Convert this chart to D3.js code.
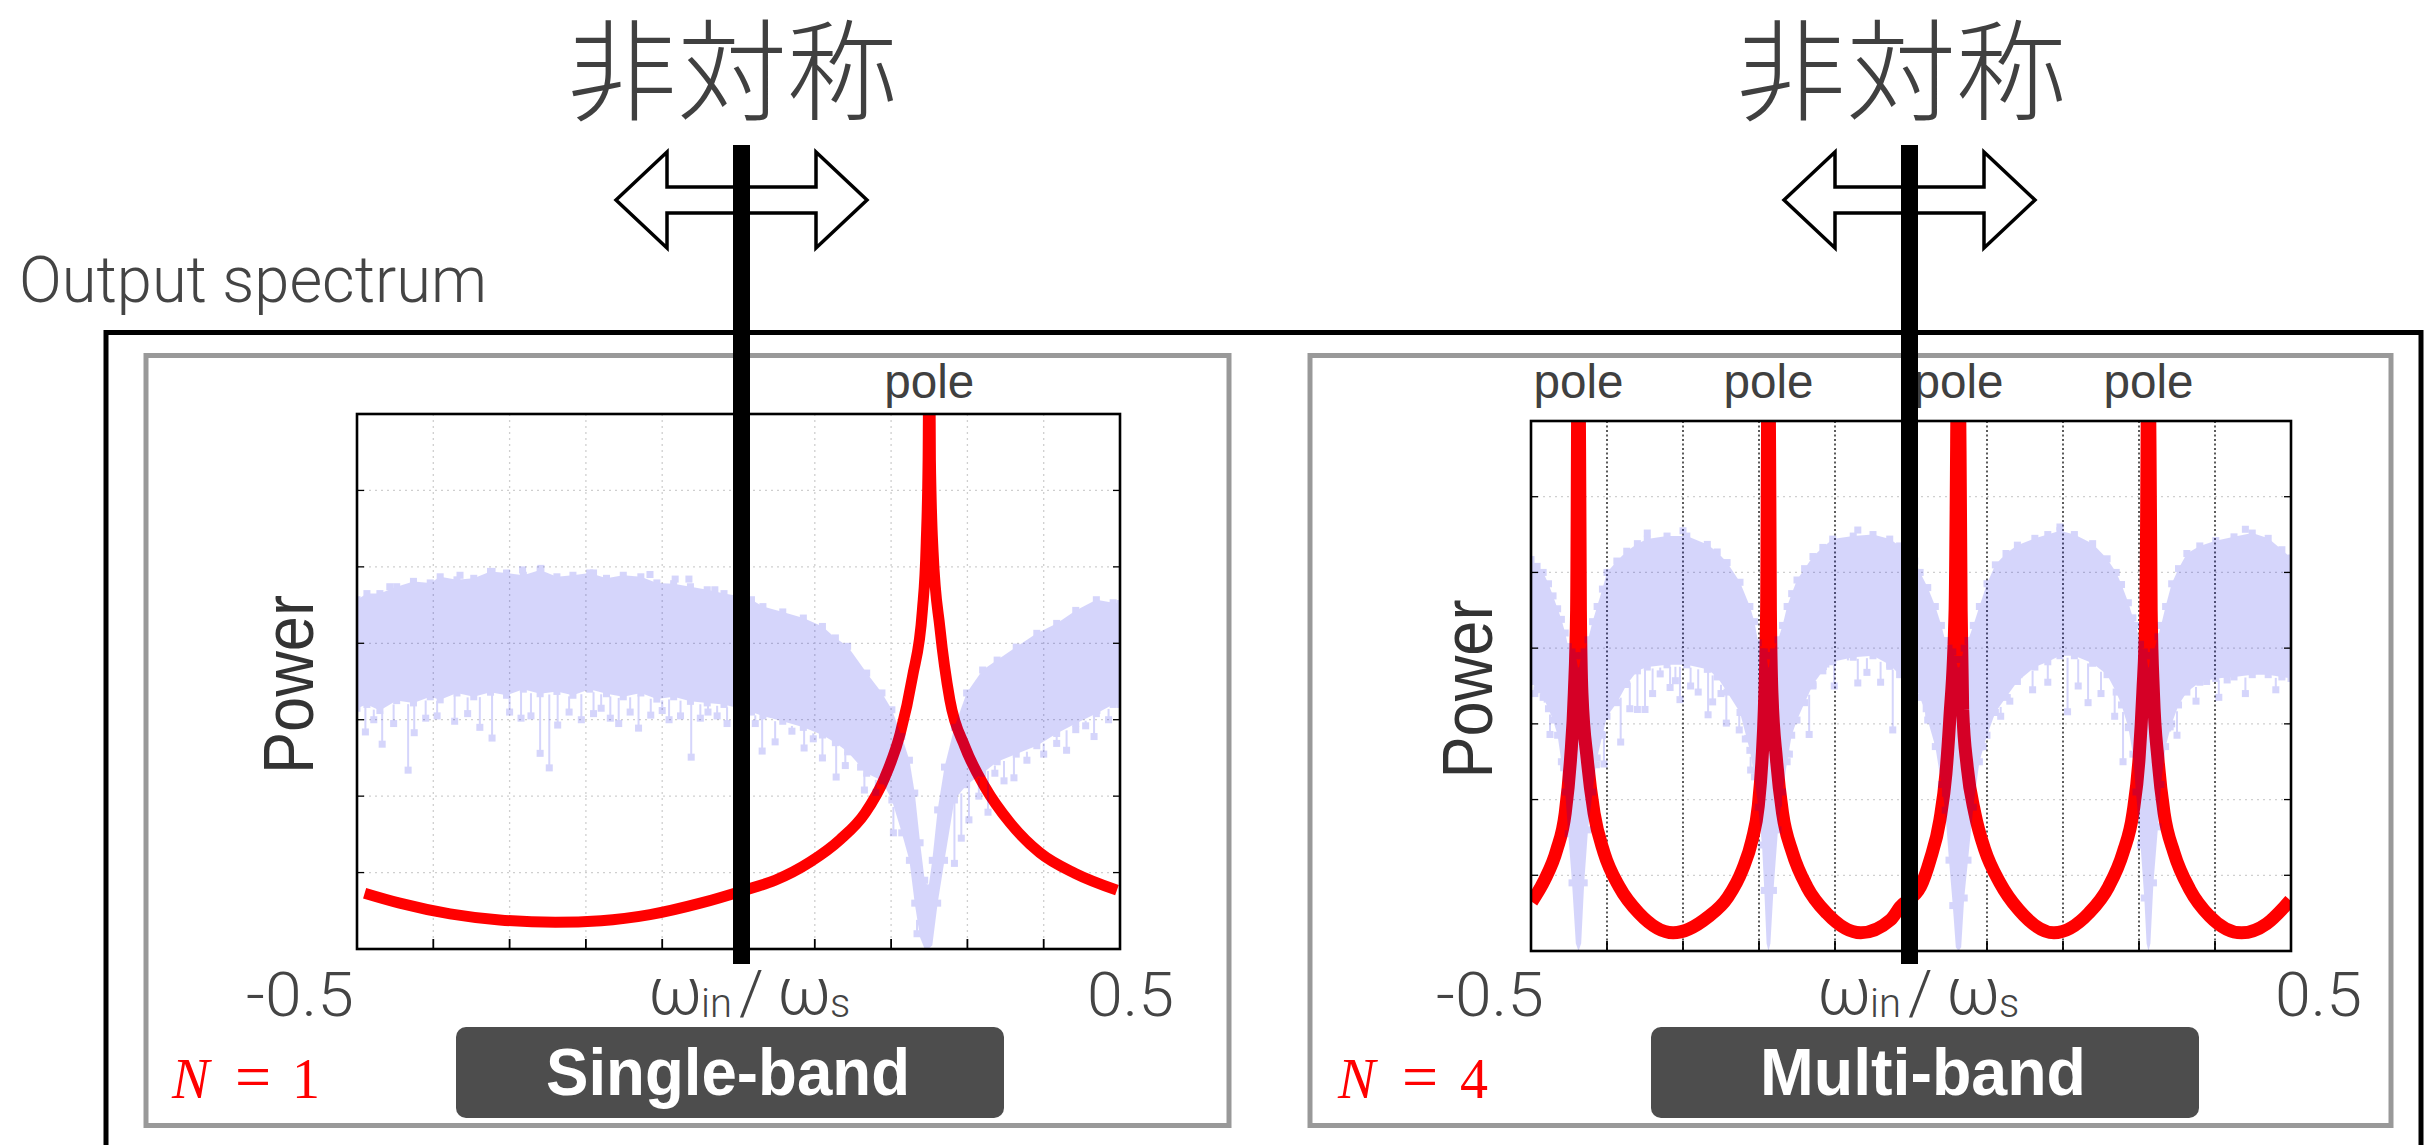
<!DOCTYPE html>
<html><head><meta charset="utf-8">
<script src="https://cdn.jsdelivr.net/npm/d3@7"></script>
<style>body{margin:0;background:#fff;}svg{display:block;}</style>
</head><body>
<svg id="c" width="2424" height="1145"></svg>
<script>
// ---------------- data ----------------
const titleText = "非対称";
const outerLabel = "Output spectrum";
const axisLabel = ["ω", "in", "/", "ω", "s"];
const yLabel = "Power";
const poleLabel = "pole";
const xTickLabels = ["-0.5", "0.5"];
const xTickValues = [-0.5, -0.4, -0.3, -0.2, -0.1, 0, 0.1, 0.2, 0.3, 0.4, 0.5];
const yGridValues = [1, 2, 3, 4, 5, 6];
const panelNames = ["Single-band", "Multi-band"];
const panelN = ["1", "4"];
const leftPoles = [0.25];
const rightPoles = [-0.4375, -0.1875, 0.0625, 0.3125];

// red |H| curve, [x, power]
const leftRed = [[-0.490,0.73],[-0.444,0.60],[-0.378,0.46],[-0.313,0.38],[-0.240,0.35],[-0.180,0.37],[-0.116,0.45],[-0.050,0.60],[0.008,0.77],[0.048,0.90],[0.094,1.14],[0.133,1.43],[0.166,1.78],[0.192,2.25],[0.212,2.82],[0.228,3.56],[0.241,4.43],[0.246,5.30],[0.2485,6.40],[0.250,9.00],[0.2515,6.40],[0.255,5.20],[0.264,4.20],[0.277,3.26],[0.297,2.64],[0.323,2.12],[0.356,1.65],[0.395,1.26],[0.441,0.99],[0.496,0.77]];
const rightRed = [[-0.499,0.65],[-0.482,0.94],[-0.466,1.34],[-0.455,1.82],[-0.448,2.53],[-0.443,3.41],[-0.440,4.50],[-0.4375,9.0],[-0.435,4.50],[-0.433,3.41],[-0.426,2.53],[-0.417,1.82],[-0.404,1.30],[-0.384,0.85],[-0.358,0.50],[-0.313,0.24],[-0.267,0.45],[-0.241,0.71],[-0.222,1.07],[-0.209,1.47],[-0.201,1.91],[-0.196,2.53],[-0.193,3.19],[-0.190,4.50],[-0.1875,9.0],[-0.185,4.50],[-0.183,3.41],[-0.177,2.53],[-0.169,1.82],[-0.156,1.30],[-0.137,0.85],[-0.111,0.50],[-0.066,0.24],[-0.027,0.41],[-0.0145,0.58],[0.0125,0.85],[0.025,1.20],[0.038,1.73],[0.046,2.35],[0.051,3.06],[0.058,4.50],[0.0625,9.0],[0.066,4.50],[0.068,3.19],[0.074,2.43],[0.084,1.82],[0.097,1.34],[0.117,0.90],[0.142,0.54],[0.188,0.24],[0.234,0.50],[0.260,0.85],[0.279,1.30],[0.292,1.82],[0.300,2.53],[0.305,3.41],[0.309,4.50],[0.3125,9.0],[0.316,4.50],[0.319,3.41],[0.325,2.53],[0.333,1.82],[0.346,1.30],[0.367,0.81],[0.393,0.46],[0.435,0.24],[0.468,0.36],[0.491,0.58],[0.499,0.67]];

// blue measured spectrum: dense band [x, top, bottom]
const leftBand = [[-0.500,4.57,3.15],[-0.487,4.65,3.20],[-0.470,4.65,3.12],[-0.448,4.74,3.25],[-0.426,4.81,3.22],[-0.404,4.79,3.30],[-0.391,4.87,3.26],[-0.369,4.83,3.35],[-0.347,4.85,3.30],[-0.325,4.94,3.36],[-0.304,4.92,3.32],[-0.282,4.89,3.40],[-0.260,4.96,3.34],[-0.238,4.87,3.37],[-0.217,4.89,3.32],[-0.195,4.92,3.40],[-0.173,4.85,3.34],[-0.151,4.89,3.30],[-0.128,4.87,3.35],[-0.107,4.79,3.27],[-0.085,4.78,3.30],[-0.063,4.74,3.24],[-0.041,4.70,3.22],[-0.019,4.65,3.20],[0.000,4.62,3.15],[0.017,4.57,3.10],[0.032,4.48,3.05],[0.058,4.41,2.98],[0.085,4.33,2.90],[0.110,4.22,2.80],[0.127,4.07,2.70],[0.143,3.96,2.58],[0.168,3.61,2.30],[0.188,3.35,2.20],[0.201,3.13,1.95],[0.214,2.78,1.52],[0.224,2.47,1.16],[0.231,2.04,0.60],[0.238,1.39,0.15],[0.244,0.90,0.00],[0.249,0.80,0.00],[0.254,1.16,0.05],[0.261,1.82,0.60],[0.270,2.38,1.16],[0.283,2.90,1.95],[0.299,3.35,2.15],[0.320,3.65,2.30],[0.339,3.78,2.45],[0.364,3.95,2.55],[0.391,4.13,2.66],[0.417,4.26,2.82],[0.442,4.43,2.95],[0.469,4.57,3.08],[0.491,4.53,3.20],[0.500,4.52,3.20]];
const rightBand = [[-0.500,5.17,3.56],[-0.492,5.08,3.45],[-0.484,5.00,3.35],[-0.477,4.85,3.20],[-0.471,4.69,3.05],[-0.465,4.52,2.85],[-0.460,4.38,2.50],[-0.455,4.20,2.10],[-0.451,4.02,1.55],[-0.446,3.95,0.90],[-0.441,3.90,0.10],[-0.4375,3.70,0.00],[-0.434,3.90,0.10],[-0.430,3.95,0.90],[-0.425,4.11,1.60],[-0.419,4.35,2.10],[-0.413,4.55,2.55],[-0.406,4.78,2.85],[-0.400,5.00,3.10],[-0.387,5.15,3.28],[-0.374,5.28,3.52],[-0.360,5.38,3.70],[-0.347,5.44,3.75],[-0.321,5.48,3.78],[-0.295,5.48,3.78],[-0.268,5.37,3.72],[-0.255,5.27,3.62],[-0.242,5.13,3.42],[-0.225,4.87,3.15],[-0.212,4.55,2.65],[-0.206,4.35,2.30],[-0.201,4.07,1.90],[-0.196,3.95,1.40],[-0.193,3.95,0.80],[-0.190,3.90,0.10],[-0.1875,3.70,0.00],[-0.185,3.90,0.10],[-0.181,3.95,0.80],[-0.175,4.11,1.60],[-0.169,4.30,2.10],[-0.163,4.55,2.50],[-0.157,4.72,2.85],[-0.150,4.90,3.05],[-0.140,5.05,3.28],[-0.129,5.21,3.52],[-0.116,5.33,3.70],[-0.103,5.44,3.82],[-0.076,5.48,3.88],[-0.050,5.50,3.90],[-0.028,5.44,3.78],[-0.015,5.35,3.65],[0.005,5.15,3.50],[0.012,5.00,3.35],[0.022,4.80,3.05],[0.032,4.55,2.70],[0.040,4.30,2.20],[0.045,4.10,1.86],[0.050,4.00,1.20],[0.055,3.95,0.60],[0.059,3.85,0.05],[0.0625,3.70,0.00],[0.066,3.85,0.05],[0.070,4.00,0.70],[0.075,4.10,1.20],[0.082,4.30,1.90],[0.090,4.55,2.50],[0.100,4.85,2.85],[0.111,5.10,3.15],[0.125,5.25,3.35],[0.140,5.36,3.56],[0.163,5.45,3.75],[0.180,5.50,3.82],[0.196,5.55,3.90],[0.215,5.50,3.90],[0.239,5.38,3.80],[0.258,5.18,3.65],[0.270,5.00,3.42],[0.277,4.84,3.25],[0.286,4.60,2.95],[0.292,4.40,2.60],[0.296,4.30,2.10],[0.302,4.05,1.40],[0.307,3.95,0.70],[0.310,3.90,0.10],[0.3125,3.70,0.00],[0.315,3.90,0.10],[0.319,3.95,0.90],[0.325,4.15,1.64],[0.329,4.30,2.20],[0.335,4.55,2.70],[0.343,4.85,3.00],[0.352,5.05,3.25],[0.363,5.25,3.42],[0.380,5.35,3.55],[0.401,5.42,3.60],[0.425,5.47,3.62],[0.449,5.52,3.65],[0.470,5.45,3.65],[0.488,5.30,3.62],[0.500,5.19,3.60]];
// isolated low samples hanging below the band, [x, power]
const leftSpikes = [[-0.489,2.84],[-0.478,3.00],[-0.467,2.68],[-0.452,2.95],[-0.433,2.34],[-0.425,2.83],[-0.410,3.02],[-0.395,3.05],[-0.372,2.98],[-0.355,3.08],[-0.339,2.90],[-0.323,2.76],[-0.300,3.10],[-0.285,3.02],[-0.272,3.05],[-0.260,2.56],[-0.248,2.37],[-0.237,2.93],[-0.222,3.10],[-0.206,3.00],[-0.190,3.08],[-0.180,3.15],[-0.168,3.02],[-0.157,2.95],[-0.142,3.10],[-0.131,2.89],[-0.115,3.06],[-0.100,3.12],[-0.091,3.00],[-0.076,3.05],[-0.062,2.51],[-0.050,3.02],[-0.040,3.10],[-0.028,3.05],[-0.015,2.95],[0.022,2.95],[0.031,2.59],[0.048,2.71],[0.070,2.85],[0.086,2.63],[0.098,2.75],[0.110,2.50],[0.128,2.25],[0.140,2.40],[0.160,2.38],[0.165,2.08],[0.180,2.05],[0.203,1.52],[0.234,0.20],[0.283,1.12],[0.292,1.45],[0.302,1.69],[0.315,2.00],[0.327,1.79],[0.336,2.30],[0.348,2.20],[0.361,2.24],[0.378,2.47],[0.400,2.55],[0.417,2.69],[0.430,2.60],[0.442,2.87],[0.455,2.92],[0.466,2.78],[0.473,3.48],[0.485,3.00]];
const rightSpikes = [[-0.495,3.40],[-0.482,3.58],[-0.475,2.86],[-0.457,2.42],[-0.414,2.46],[-0.404,2.47],[-0.387,3.62],[-0.382,2.76],[-0.370,3.20],[-0.360,3.19],[-0.350,3.19],[-0.340,3.40],[-0.330,3.66],[-0.317,3.48],[-0.310,3.57],[-0.304,3.32],[-0.290,3.50],[-0.280,3.42],[-0.267,3.12],[-0.261,3.29],[-0.250,3.40],[-0.243,3.01],[-0.226,2.92],[-0.218,2.80],[-0.211,2.39],[-0.171,2.44],[-0.160,2.60],[-0.151,3.19],[-0.134,2.86],[-0.129,3.50],[-0.112,3.79],[-0.101,3.50],[-0.083,3.92],[-0.070,3.54],[-0.058,3.68],[-0.040,3.55],[-0.028,3.76],[-0.024,2.92],[0.020,3.20],[0.032,3.03],[0.042,2.57],[0.095,2.70],[0.100,3.12],[0.118,3.10],[0.130,3.30],[0.142,3.65],[0.160,3.45],[0.180,3.55],[0.206,3.16],[0.220,3.50],[0.233,3.28],[0.250,3.40],[0.268,3.10],[0.279,2.50],[0.341,2.96],[0.350,2.85],[0.363,3.50],[0.375,3.30],[0.389,3.56],[0.405,3.35],[0.416,3.58],[0.440,3.40],[0.468,3.89],[0.480,3.45],[0.491,3.81]];
const leftTopMarks = [[-0.457,4.74],[-0.365,4.89],[-0.323,4.94],[-0.283,4.96],[-0.259,4.98],[-0.190,4.92],[-0.116,4.90],[-0.083,4.84],[-0.065,4.84],[-0.031,4.70]];
const rightTopMarks = [[-0.347,5.52],[-0.300,5.55],[-0.070,5.56],[0.196,5.60],[0.440,5.57]];

// ---------------- layout ----------------
const svg = d3.select("#c");
const panels = [
  {box:[146,355.5,1083,770], plot:[357,414,1120,949], red:leftRed, band:leftBand, spikes:leftSpikes, marks:leftTopMarks, poles:leftPoles,
   name:panelNames[0], N:panelN[0], redW:11, darkV:false, bar:741.5, arrowX:741.5, titleX:732,
   tickL:354, tickR:1087, omegaX:648, powerX:313, btn:[456,1027,548,91], btnTx:728, btnLen:364, nX:[172,235,292]},
  {box:[1310,355.5,1081,770], plot:[1531,421,2291,951], red:rightRed, band:rightBand, spikes:rightSpikes, marks:rightTopMarks, poles:rightPoles,
   name:panelNames[1], N:panelN[1], redW:13, darkV:true, bar:1909.5, arrowX:1909.5, titleX:1901,
   tickL:1544, tickR:2275, omegaX:1817, powerX:1492, btn:[1651,1027,548,91], btnTx:1923, btnLen:326, nX:[1338,1402,1460]}
];
const lightFont = "Roboto, 'Liberation Sans', Arial, sans-serif";
const regFont = "'Liberation Sans', Arial, Helvetica, sans-serif";

// outer frame + label
svg.append("rect").attr("x",106).attr("y",332.5).attr("width",2315).attr("height",900)
  .attr("fill","none").attr("stroke","#000").attr("stroke-width",5);
svg.append("text").attr("x",19).attr("y",302).attr("font-family",lightFont).attr("font-weight",300)
  .attr("font-size",65).attr("fill","#444").attr("textLength",468).attr("lengthAdjust","spacingAndGlyphs").text(outerLabel);

const defs = svg.append("defs");

panels.forEach((p, i) => {
  const [px0, py0, px1, py1] = p.plot;
  const x = d3.scaleLinear().domain([-0.5, 0.5]).range([px0, px1]);
  const y = d3.scaleLinear().domain([0, 7]).range([py1, py0]);

  svg.append("rect").attr("x",p.box[0]).attr("y",p.box[1]).attr("width",p.box[2]).attr("height",p.box[3])
    .attr("fill","#fff").attr("stroke","#999").attr("stroke-width",5);

  defs.append("clipPath").attr("id","clip"+i).append("rect")
    .attr("x",px0).attr("y",py0).attr("width",px1-px0).attr("height",py1-py0);

  const g = svg.append("g");
  // grid
  g.selectAll(".hg").data(yGridValues).join("line")
    .attr("x1",px0).attr("x2",px1).attr("y1",d=>y(d)).attr("y2",d=>y(d))
    .attr("stroke","#cfcfcf").attr("stroke-width",1.3).attr("stroke-dasharray","2,4");
  g.selectAll(".vg").data(xTickValues.slice(1,-1)).join("line")
    .attr("y1",py0).attr("y2",py1).attr("x1",d=>x(d)).attr("x2",d=>x(d))
    .attr("stroke",p.darkV ? "#333" : "#cfcfcf").attr("stroke-width",p.darkV ? 1.6 : 1.3)
    .attr("stroke-dasharray",p.darkV ? "2,2.5" : "2,4");

  // red curve
  const line = d3.line().x(d=>x(d[0])).y(d=>y(d[1])).curve(d3.curveMonotoneX);
  g.append("path").attr("clip-path","url(#clip"+i+")").attr("d",line(p.red))
    .attr("fill","none").attr("stroke","#ff0000").attr("stroke-width",p.redW).attr("stroke-linejoin","round");

  // blue spectrum (translucent layer)
  const bg = g.append("g").attr("clip-path","url(#clip"+i+")").append("g").attr("opacity",0.16);
  const area = d3.area().x(d=>x(d[0])).y0(d=>y(d[2])).y1(d=>y(d[1])).curve(d3.curveLinear);
  bg.append("path").attr("d",area(p.band)).attr("fill","#0000eb");
  const bottomAt = xv => {
    const b = p.band;
    for (let k=0;k<b.length-1;k++){ if (xv>=b[k][0] && xv<=b[k+1][0]) {
      const t=(xv-b[k][0])/(b[k+1][0]-b[k][0]); return b[k][2]+t*(b[k+1][2]-b[k][2]); } }
    return b[b.length-1][2];
  };
  bg.selectAll(".sp").data(p.spikes).join("line")
    .attr("x1",d=>x(d[0])).attr("x2",d=>x(d[0])).attr("y1",d=>y(d[1])).attr("y2",d=>y(bottomAt(d[0]))+2)
    .attr("stroke","#0000eb").attr("stroke-width",2);
  const sq = 7;
  const markPts = p.spikes.concat(p.marks, p.band.map(d=>[d[0],d[1]]), p.band.filter(d=>d[2]>0.2).map(d=>[d[0],d[2]]));
  bg.selectAll(".sq").data(markPts).join("rect")
    .attr("x",d=>x(d[0])-sq/2).attr("y",d=>y(d[1])-sq/2).attr("width",sq).attr("height",sq).attr("fill","#0000eb");

  // frame and ticks
  g.selectAll(".bt").data(xTickValues.slice(1,-1)).join("line")
    .attr("x1",d=>x(d)).attr("x2",d=>x(d)).attr("y1",py1).attr("y2",py1-10).attr("stroke","#000").attr("stroke-width",1.8);
  g.selectAll(".lt").data(yGridValues).join("line")
    .attr("x1",px0).attr("x2",px0+7).attr("y1",d=>y(d)).attr("y2",d=>y(d)).attr("stroke","#000").attr("stroke-width",1.3);
  g.selectAll(".rt").data(yGridValues).join("line")
    .attr("x1",px1).attr("x2",px1-7).attr("y1",d=>y(d)).attr("y2",d=>y(d)).attr("stroke","#000").attr("stroke-width",1.3);
  g.append("rect").attr("x",px0).attr("y",py0).attr("width",px1-px0).attr("height",py1-py0)
    .attr("fill","none").attr("stroke","#000").attr("stroke-width",2.6);

  // tick labels
  g.append("text").attr("x",p.tickL).attr("y",1016).attr("text-anchor","end").attr("font-family",lightFont).attr("font-weight",300)
    .attr("font-size",61).attr("fill","#444").attr("textLength",108).attr("lengthAdjust","spacingAndGlyphs").text(xTickLabels[0]);
  g.append("text").attr("x",p.tickR).attr("y",1016).attr("font-family",lightFont).attr("font-weight",300)
    .attr("font-size",61).attr("fill","#444").attr("textLength",87).attr("lengthAdjust","spacingAndGlyphs").text(xTickLabels[1]);

  // axis label ω_in / ω_s
  const ox = p.omegaX;
  const t = g.append("text").attr("y",1014).attr("font-family",lightFont).attr("font-weight",300).attr("fill","#444");
  t.append("tspan").attr("x",ox).attr("font-size",66).text(axisLabel[0]);
  t.append("tspan").attr("x",ox+53).attr("dy",3).attr("font-size",40).text(axisLabel[1]);
  t.append("tspan").attr("x",ox+91).attr("dy",-3).attr("font-size",62).text(axisLabel[2]);
  t.append("tspan").attr("x",ox+129).attr("font-size",66).text(axisLabel[3]);
  t.append("tspan").attr("x",ox+182).attr("dy",3).attr("font-size",40).text(axisLabel[4]);

  // Power
  g.append("text").attr("transform",`translate(${p.powerX},${(py0+py1)/2+3}) rotate(-90)`).attr("text-anchor","middle")
    .attr("font-family",regFont).attr("font-size",71).attr("fill","#333").attr("textLength",179).attr("lengthAdjust","spacingAndGlyphs").text(yLabel);

  // pole labels
  g.selectAll(".pl").data(p.poles).join("text").attr("x",d=>x(d)).attr("y",398).attr("text-anchor","middle")
    .attr("font-family",regFont).attr("font-size",48).attr("fill","#404040").attr("textLength",90).attr("lengthAdjust","spacingAndGlyphs").text(poleLabel);

  // button
  g.append("rect").attr("x",p.btn[0]).attr("y",p.btn[1]).attr("width",p.btn[2]).attr("height",p.btn[3]).attr("rx",10).attr("fill","#4d4d4d");
  g.append("text").attr("x",p.btnTx).attr("y",1095).attr("text-anchor","middle").attr("font-family",regFont).attr("font-weight","bold")
    .attr("font-size",66).attr("fill","#fff").attr("textLength",p.btnLen).attr("lengthAdjust","spacingAndGlyphs").text(p.name);

  // N = k
  const nt = g.append("text").attr("y",1098).attr("font-family","'Liberation Serif', 'Times New Roman', serif").attr("fill","#ff0000");
  nt.append("tspan").attr("x",p.nX[0]).attr("font-style","italic").attr("font-size",56).text("N");
  nt.append("tspan").attr("x",p.nX[1]).attr("font-size",64).text("=");
  nt.append("tspan").attr("x",p.nX[2]).attr("font-size",56).text(p.N);

  // title
  svg.append("text").attr("x",p.titleX).attr("y",112).attr("text-anchor","middle")
    .attr("font-family","'Noto Sans CJK JP', 'Noto Sans CJK SC', sans-serif").attr("font-weight",300)
    .attr("font-size",110).attr("fill","#404040").text(titleText);

  // double arrow
  const cx = p.arrowX, cy = 200, hw = 125.5, hl = 51, hh = 48, sh = 13;
  const pts = [[cx-hw,cy],[cx-hw+hl,cy-hh],[cx-hw+hl,cy-sh],[cx+hw-hl,cy-sh],[cx+hw-hl,cy-hh],[cx+hw,cy],
               [cx+hw-hl,cy+hh],[cx+hw-hl,cy+sh],[cx-hw+hl,cy+sh],[cx-hw+hl,cy+hh]];
  svg.append("polygon").attr("points",pts.map(q=>q.join(",")).join(" "))
    .attr("fill","#fff").attr("stroke","#000").attr("stroke-width",3.5).attr("stroke-linejoin","miter");
});

// symmetry axis bars (on top)
panels.forEach(p => {
  svg.append("rect").attr("x",p.bar-8.5).attr("y",145).attr("width",17).attr("height",819).attr("fill","#000");
});
</script>
</body></html>
